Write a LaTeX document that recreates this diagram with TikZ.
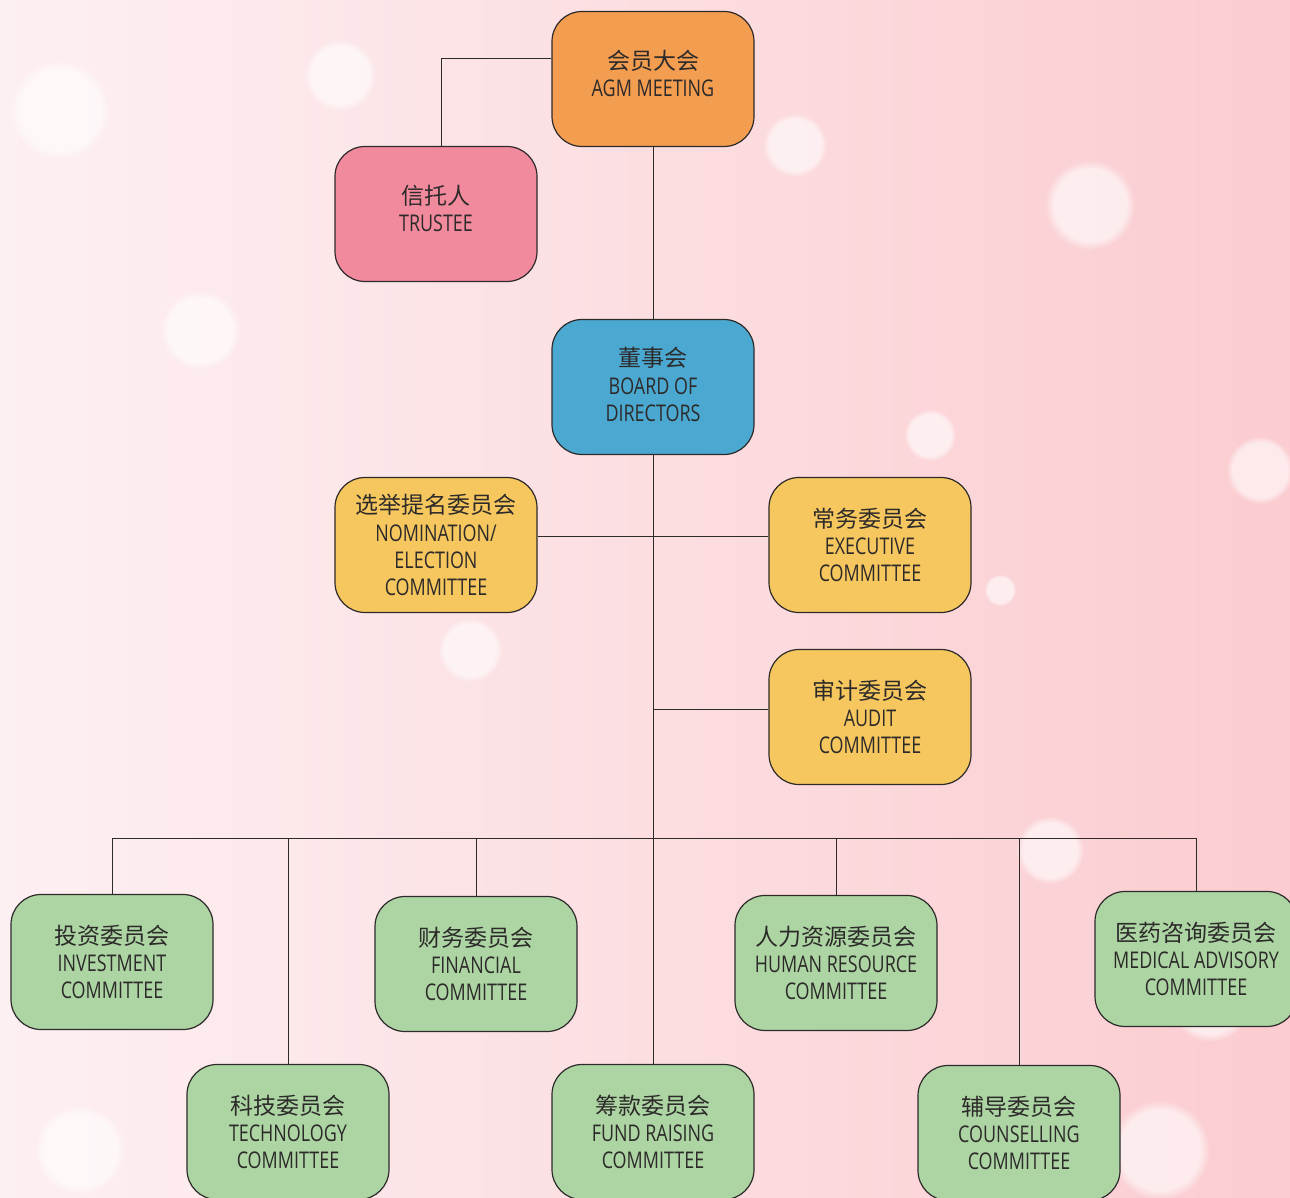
\documentclass[tikz,border=0pt]{standalone}
\usepackage{fontspec}
\setmainfont[FakeStretch=0.78]{Open Sans}
\newfontfamily\cjk{Noto Sans CJK SC}
\usetikzlibrary{positioning}
\usetikzlibrary{calc}
\usetikzlibrary{fadings}

\definecolor{bgleft}{RGB}{253,240,242}
\definecolor{bgright}{RGB}{251,204,208}
\definecolor{agmorange}{RGB}{243,157,80}
\definecolor{trustpink}{RGB}{242,138,158}
\definecolor{boardblue}{RGB}{75,168,208}
\definecolor{commyellow}{RGB}{246,199,94}
\definecolor{commgreen}{RGB}{172,213,163}
\definecolor{edge}{RGB}{45,42,42}

\tikzset{
  orgbox/.style={draw=edge, line width=0.6pt, rounded corners=15pt,
    minimum width=101pt, minimum height=67.5pt, align=center,
    font=\fontsize{11.5}{13.6}\selectfont, text=edge, inner sep=1pt},
  link/.style={draw=edge, line width=0.5pt},
}

\begin{document}
\begin{tikzpicture}[x=0.5pt, y=-0.5pt]
  \useasboundingbox (0,0) rectangle (1290,1198);
  \shade[left color=bgleft, right color=bgright] (0,0) rectangle (1290,1198);
  % bokeh
  \foreach \bx/\by/\br in {340/75/36, 60/110/50, 795/145/32, 1090/205/45, 930/435/26, 1000/590/16, 470/650/32, 1260/470/34, 1210/1000/42, 1160/1150/50, 80/1150/45, 1050/850/34, 200/330/40} {
    \fill[white, opacity=0.6, path fading=circle with fuzzy edge 20 percent] (\bx,\by) circle (\br);
  }

  \node[orgbox, fill=agmorange] (agm) at (653,79) {{\cjk 会员大会}\\AGM MEETING\\[-8pt]};
  \node[orgbox, fill=trustpink] (trustee) at (436,214) {{\cjk 信托人}\\TRUSTEE\\[-8pt]};
  \node[orgbox, fill=boardblue] (board) at (653,387) {{\cjk 董事会}\\BOARD OF\\DIRECTORS\\[-11pt]};
  \node[orgbox, fill=commyellow] (nomination) at (436,545) {{\cjk 选举提名委员会}\\NOMINATION/\\ELECTION\\COMMITTEE};
  \node[orgbox, fill=commyellow] (executive) at (870,545) {{\cjk 常务委员会}\\EXECUTIVE\\COMMITTEE};
  \node[orgbox, fill=commyellow] (audit) at (870,717) {{\cjk 审计委员会}\\AUDIT\\COMMITTEE};

  \coordinate (busleft) at (111,838);

  \foreach \name/\x/\y/\txt in {
      investment/112/962/{{\cjk 投资委员会}\\INVESTMENT\\COMMITTEE},
      technology/288/1132/{{\cjk 科技委员会}\\TECHNOLOGY\\COMMITTEE},
      financial/476/964/{{\cjk 财务委员会}\\FINANCIAL\\COMMITTEE},
      fundraising/653/1132/{{\cjk 筹款委员会}\\FUND RAISING\\COMMITTEE},
      humanres/836/963/{{\cjk 人力资源委员会}\\HUMAN RESOURCE\\COMMITTEE},
      counselling/1019/1133/{{\cjk 辅导委员会}\\COUNSELLING\\COMMITTEE},
      medical/1196/959/{{\cjk 医药咨询委员会}\\MEDICAL ADVISORY\\COMMITTEE}} {
    \node[orgbox, fill=commgreen] (\name) at (\x,\y) {\txt};
    \draw[link] (\name.north) -- (\name.north |- busleft);
  }
  \draw[link] (investment.north |- busleft) -- (medical.north |- busleft);

  \coordinate (agmout) at ([yshift=10pt]agm.west);
  \draw[link] (agmout) -| ([xshift=2.5pt]trustee.north);
  \draw[link] (agm.south) -- (board.north);
  \draw[link] (board.south) -- (fundraising.north);
  \draw[link] ([yshift=4.5pt]nomination.east) -- ([yshift=4.5pt]executive.west);
  \coordinate (auditin) at ([yshift=4pt]audit.west);
  \draw[link] (auditin) -- (auditin -| board.south);
\end{tikzpicture}
\end{document}
